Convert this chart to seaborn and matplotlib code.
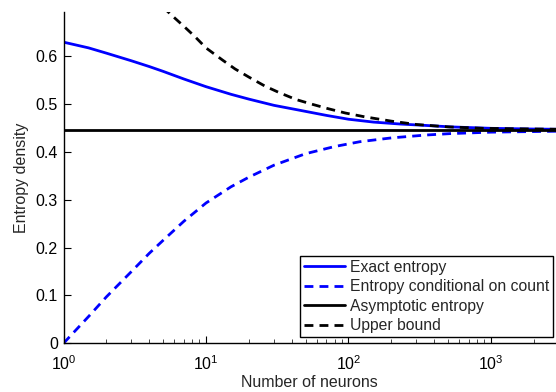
import matplotlib
matplotlib.use("Agg")
import matplotlib.pyplot as plt
import seaborn as sns
import numpy as np
from matplotlib.ticker import LogLocator

# ---- data ----
n_exact = [1, 1.5, 2, 3, 4, 5, 7, 10, 15, 20, 30, 45, 70, 100, 150, 230,
           350, 520, 1000, 2000, 3000]
h_exact = [0.629, 0.617, 0.606, 0.590, 0.578, 0.568, 0.552, 0.536, 0.520,
           0.510, 0.497, 0.487, 0.476, 0.468, 0.462, 0.458, 0.455, 0.452,
           0.449, 0.4475, 0.447]

n_cond = [1, 1.5, 2, 3, 4, 5, 7, 10, 15, 20, 30, 50, 80, 120, 200, 350,
          520, 1000, 3000]
h_cond = [0.0, 0.056, 0.097, 0.150, 0.188, 0.215, 0.255, 0.293, 0.327,
          0.347, 0.372, 0.396, 0.411, 0.421, 0.429, 0.435, 0.438, 0.441,
          0.443]

n_asym = [1, 3000]
h_asym = [0.4455, 0.4455]

n_upper = [5, 6, 7, 8.4, 10, 13, 16, 20, 26, 33, 43, 56, 72, 95, 130, 200,
           300, 500, 880, 1500, 3000]
h_upper = [0.702, 0.680, 0.662, 0.640, 0.617, 0.592, 0.573, 0.556, 0.537,
           0.523, 0.509, 0.499, 0.490, 0.481, 0.473, 0.464, 0.457, 0.452,
           0.449, 0.448, 0.447]

labels = ["Exact entropy", "Entropy conditional on count",
          "Asymptotic entropy", "Upper bound"]
yticks = [0, 0.1, 0.2, 0.3, 0.4, 0.5, 0.6]
ytick_labels = ["0", "0.1", "0.2", "0.3", "0.4", "0.5", "0.6"]

# ---- style ----
sns.set_style("ticks")
plt.rcParams["font.family"] = ["Liberation Sans", "DejaVu Sans"]
plt.rcParams["mathtext.fontset"] = "custom"
plt.rcParams["mathtext.rm"] = "Liberation Sans"
plt.rcParams["mathtext.it"] = "Liberation Sans:italic"

fig = plt.figure(figsize=(5.56, 3.92), dpi=100)
ax = fig.add_axes([63.5 / 556, (392 - 343.3) / 392, (556 - 63.5) / 556,
                   (343.3 - 11.5) / 392])

lw = 2.0
dash = (0, (3.2, 2.2))
sns.lineplot(x=n_exact, y=h_exact, ax=ax, color="#0000ff", lw=lw, label=labels[0])
sns.lineplot(x=n_cond, y=h_cond, ax=ax, color="#0000ff", lw=lw,
             linestyle=dash, label=labels[1])
sns.lineplot(x=n_asym, y=h_asym, ax=ax, color="black", lw=lw, label=labels[2])
sns.lineplot(x=n_upper, y=h_upper, ax=ax, color="black", lw=lw,
             linestyle=dash, label=labels[3])

ax.set_xscale("log")
ax.set_xlim(1, 2860)
ax.set_ylim(0, 0.693)
ax.set_yticks(yticks)
ax.set_yticklabels(ytick_labels)
ax.xaxis.set_major_locator(LogLocator(base=10, numticks=10))
ax.xaxis.set_minor_locator(LogLocator(base=10, subs=np.arange(2, 10), numticks=20))

ax.tick_params(axis="both", which="major", direction="in", length=5, width=0.8,
               labelsize=11.5, colors="black", pad=4)
ax.tick_params(axis="x", which="minor", direction="in", length=3, width=0.6)
ax.tick_params(axis="x", which="major", pad=8)

for side in ["top", "right"]:
    ax.spines[side].set_visible(False)
for side in ["left", "bottom"]:
    ax.spines[side].set_color("black")
    ax.spines[side].set_linewidth(1.0)

ax.set_xlabel("Number of neurons", fontsize=11.5, labelpad=1.5)
ax.set_ylabel("Entropy density", fontsize=11.5, labelpad=5)

leg = ax.legend(loc="lower right", bbox_to_anchor=(0.994, 0.019), borderaxespad=0,
                fontsize=11.3, frameon=True, fancybox=False, shadow=False,
                handlelength=2.6, handletextpad=0.3, labelspacing=0.28,
                borderpad=0.25)
leg.get_frame().set_edgecolor("black")
leg.get_frame().set_linewidth(1.0)
leg.get_frame().set_alpha(1)

fig.savefig("out.png", dpi=100)
